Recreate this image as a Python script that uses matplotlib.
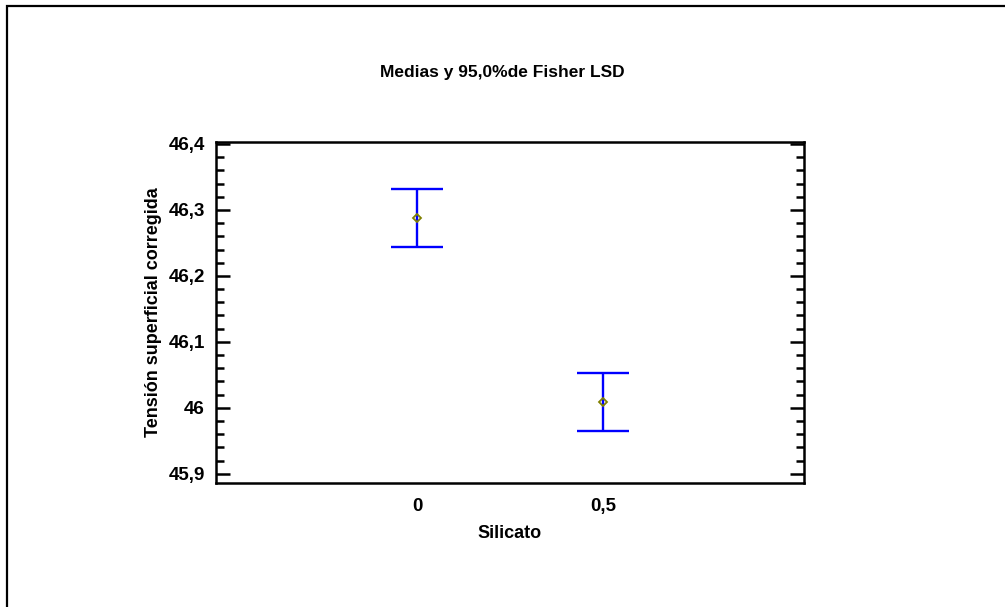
import matplotlib
matplotlib.use("Agg")
import matplotlib.pyplot as plt
from matplotlib.patches import Rectangle
from matplotlib.ticker import MultipleLocator, FuncFormatter

plt.rcParams["font.family"] = ["Liberation Sans", "DejaVu Sans"]
plt.rcParams["font.weight"] = "bold"

# Fisher LSD means with 95% intervals
niveles = ["0", "0,5"]
medias = [46.288, 46.009]
inferior = [46.244, 45.965]
superior = [46.332, 46.053]

fig = plt.figure(figsize=(10.05, 6.07), dpi=100)
ax = fig.add_axes([216 / 1005, 1 - 483 / 607, 588 / 1005, 341 / 607])

# outer frame around the graphics window
fig.patches.append(Rectangle((7 / 1005, -0.1), 1.2, 1 - 6 / 607 + 0.1,
                             transform=fig.transFigure, fill=False,
                             edgecolor="black", linewidth=1.6))

x = list(range(len(niveles)))
for i in x:
    ax.errorbar(i, medias[i],
                yerr=[[medias[i] - inferior[i]], [superior[i] - medias[i]]],
                fmt="none", ecolor="#0000ff", elinewidth=1.7,
                capsize=19, capthick=1.7)
    ax.plot(i, medias[i], marker="D", ms=4.5, mfc="none", mec="#808000",
            mew=1.3, ls="none")

ax.set_xlim(-1.08, 2.08)
ax.set_ylim(45.886, 46.403)
ax.set_xticks(x)
ax.set_xticklabels(niveles)
ax.yaxis.set_major_locator(MultipleLocator(0.1))
ax.yaxis.set_minor_locator(MultipleLocator(0.02))
ax.yaxis.set_major_formatter(FuncFormatter(
    lambda v, p: f"{v:.1f}".rstrip("0").rstrip(".").replace(".", ",")
    if abs(v - round(v)) < 1e-9 else f"{v:.1f}".replace(".", ",")))

for s in ax.spines.values():
    s.set_linewidth(1.8)
ax.tick_params(axis="y", which="major", direction="in", length=10, width=1.8,
               right=True, labelsize=13.5, pad=8)
ax.tick_params(axis="y", which="minor", direction="in", length=6, width=1.8,
               right=True)
ax.tick_params(axis="x", length=0, labelsize=13.5, pad=11)

ax.set_xlabel("Silicato", fontsize=13, fontweight="bold", labelpad=7)
ax.set_ylabel("Tensión superficial corregida", fontsize=13, fontweight="bold",
              labelpad=5)
fig.text(0.5, 1 - 72 / 607, "Medias y 95,0%de Fisher LSD", ha="center",
         va="center", fontsize=12.5, fontweight="bold")

fig.savefig("out.png", dpi=100)
